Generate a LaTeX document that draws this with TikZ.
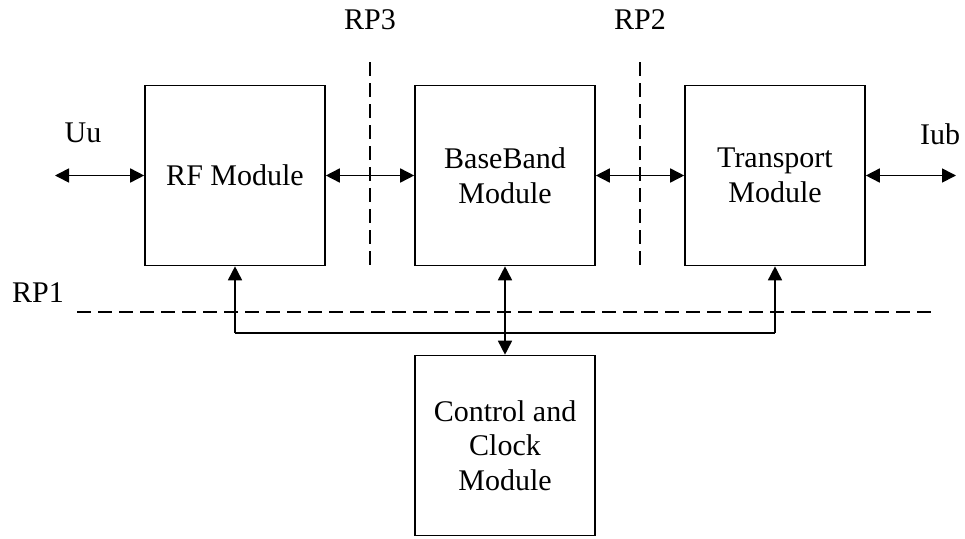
\documentclass[tikz,border=0pt]{standalone}
\usepackage{fontspec}
\setmainfont{Liberation Serif}
\usetikzlibrary{arrows.meta}
\begin{document}
\begin{tikzpicture}[x=1pt,y=-1pt,
  modbox/.style={draw,line width=1.6pt,minimum width=180pt,minimum height=180pt,
    align=center,inner sep=0pt,font=\fontsize{30}{34.5}\selectfont},
  lbl/.style={inner sep=0pt,font=\fontsize{30}{34.5}\selectfont},
  conn/.style={line width=1.6pt,{Triangle[length=14pt,width=14pt]}-{Triangle[length=14pt,width=14pt]}},
  upconn/.style={line width=1.6pt,-{Triangle[length=14pt,width=14pt]}},
  refline/.style={line width=1.6pt,dash pattern=on 14pt off 7pt}]
\useasboundingbox (0,0) rectangle (965,538);
\node[modbox] (rf) at (235,175.5) {RF Module};
\node[modbox] (bb) at (505,175.5) {BaseBand\\Module};
\node[modbox] (tm) at (775,175.5) {Transport\\Module};
\node[modbox] (cc) at (505,445.5) {Control and\\Clock\\Module};
\node[lbl] (rp3) at (370,20) {RP3};
\node[lbl] (rp2) at (640,20) {RP2};
\node[lbl] (rp1) at (38,293) {RP1};
\node[lbl] (uu) at (83,133) {Uu};
\node[lbl] (iub) at (940,134) {Iub};
\coordinate (uuend) at (55,175.5);
\coordinate (iubend) at (956,175.5);
\coordinate (rp3a) at (370,62);
\coordinate (rp3b) at (370,268);
\coordinate (rp2a) at (640,62);
\coordinate (rp2b) at (640,268);
\coordinate (rp1a) at (77,312);
\coordinate (rp1b) at (936,312);
\coordinate (busl) at (235,333);
\coordinate (busr) at (775,333);
\draw[refline] (rp3a) -- (rp3b);
\draw[refline] (rp2a) -- (rp2b);
\draw[refline] (rp1a) -- (rp1b);
\draw[conn] (uuend) -- (rf.west);
\draw[conn] (rf.east) -- (bb.west);
\draw[conn] (bb.east) -- (tm.west);
\draw[conn] (tm.east) -- (iubend);
\draw[line width=1.6pt] (busl) -- (busr);
\draw[upconn] (busl) -- (rf.south);
\draw[upconn] (busr) -- (tm.south);
\draw[conn] (cc.north) -- (bb.south);
\end{tikzpicture}
\end{document}
